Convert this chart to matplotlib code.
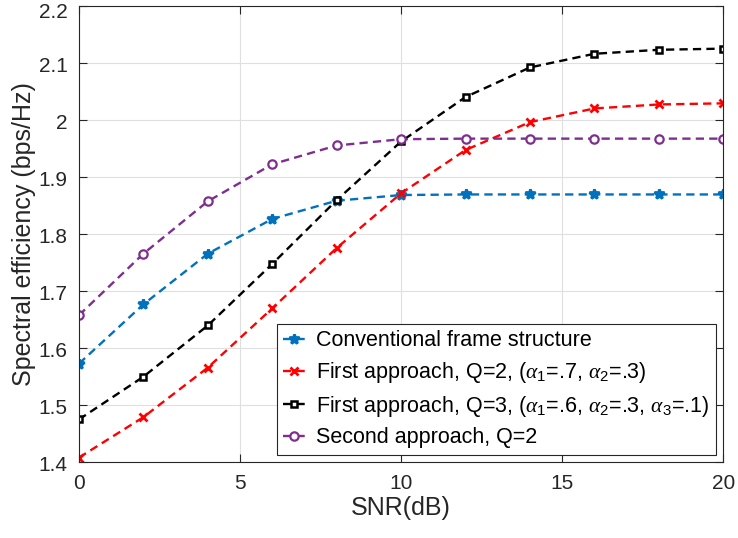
import matplotlib
matplotlib.use("Agg")
import matplotlib.pyplot as plt
import matplotlib.transforms as mtransforms

plt.rcParams['font.family'] = ['Liberation Sans', 'DejaVu Sans']
plt.rcParams['mathtext.fontset'] = 'custom'
plt.rcParams['mathtext.it'] = 'Liberation Serif:italic'
plt.rcParams['mathtext.rm'] = 'Liberation Sans'

snr = [0, 2, 4, 6, 8, 10, 12, 14, 16, 18, 20]
conventional = [1.572, 1.676, 1.765, 1.826, 1.858, 1.868, 1.869, 1.869, 1.869, 1.869, 1.869]
first_q2 = [1.407, 1.478, 1.565, 1.669, 1.775, 1.871, 1.947, 1.996, 2.020, 2.027, 2.029]
first_q3 = [1.474, 1.549, 1.639, 1.747, 1.859, 1.962, 2.040, 2.092, 2.116, 2.123, 2.125]
second_q2 = [1.657, 1.765, 1.857, 1.922, 1.955, 1.966, 1.967, 1.967, 1.967, 1.967, 1.967]

labels = ['Conventional frame structure',
          r'First approach, Q=2, ($\alpha_1$=.7, $\alpha_2$=.3)',
          r'First approach, Q=3, ($\alpha_1$=.6, $\alpha_2$=.3, $\alpha_3$=.1)',
          'Second approach, Q=2']

fig = plt.figure(figsize=(7.38, 5.38), dpi=100)
ax = fig.add_axes([0.107, 0.142, 0.873, 0.847])

dash = (3.5, 2.2)
ax.plot(snr, conventional, '--', color='#0072BD', marker='*', ms=7, mew=2.0, lw=1.7, dashes=dash, label=labels[0])
ax.plot(snr, first_q2, '--', color='#FF0000', marker='x', ms=6, mew=2.0, lw=1.7, dashes=dash, label=labels[1])
ax.plot(snr, first_q3, '--', color='black', marker='s', ms=5, mew=1.8, mfc='white', lw=1.7, dashes=dash, label=labels[2])
ax.plot(snr, second_q2, '--', color='#7E2F8E', marker='o', ms=6, mew=1.6, mfc='white', lw=1.7, dashes=dash, label=labels[3])

ax.set_xlim(0, 20)
ax.set_ylim(1.4, 2.2)
ax.set_xticks([0, 5, 10, 15, 20])
ax.set_yticks([1.4, 1.5, 1.6, 1.7, 1.8, 1.9, 2.0, 2.1, 2.2])
ax.set_yticklabels(['1.4', '1.5', '1.6', '1.7', '1.8', '1.9', '2', '2.1', '2.2'])
ax.grid(True, color='#DFDFDF', lw=0.8)
ax.set_axisbelow(True)
ax.tick_params(direction='in', top=True, right=True, labelsize=15, colors='#262626', length=6)
ax.tick_params(axis='x', pad=9)
ax.tick_params(axis='y', pad=8)
for s in ax.spines.values():
    s.set_color('#262626')
    s.set_linewidth(0.8)

# nudge y tick labels down a little, the top one more so it stays inside the figure
ylabs = ax.get_yticklabels()
for i, lab in enumerate(ylabs):
    dy = -5 if i == len(ylabs) - 1 else -2
    lab.set_transform(lab.get_transform() + mtransforms.ScaledTranslation(0, dy / 100, fig.dpi_scale_trans))

ax.set_xlabel('SNR(dB)', fontsize=18, color='#262626', labelpad=2)
ax.set_ylabel('Spectral efficiency (bps/Hz)', fontsize=18, color='#262626', labelpad=2)

leg = ax.legend(loc='lower right', bbox_to_anchor=(0.988, 0.015), fontsize=15.5,
                handlelength=1.0, handletextpad=0.5, borderpad=0.3, labelspacing=0.4,
                fancybox=False, framealpha=1, edgecolor='#262626', borderaxespad=0)
leg.get_frame().set_linewidth(0.8)

fig.savefig('out.png', dpi=100)
